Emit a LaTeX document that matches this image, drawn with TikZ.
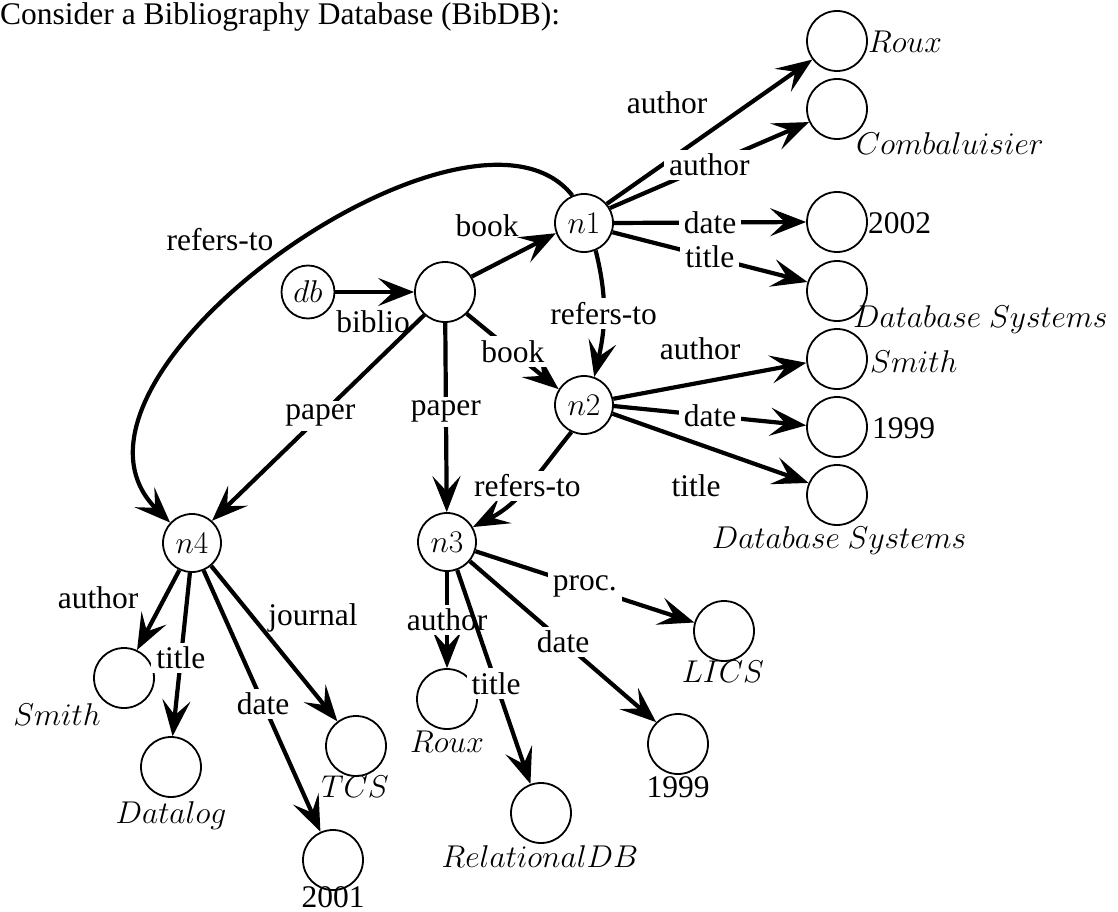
\documentclass[tikz,border=0pt]{standalone}
\usepackage{fix-cm}
\usepackage{fontspec}
\setmainfont{Liberation Serif}
\newfontfamily\lblserif{Liberation Serif}
\usetikzlibrary{arrows.meta}
\newcommand\lblfont{\lblserif\fontsize{31.5}{37}\selectfont}
\begin{document}
\begin{tikzpicture}[x=1pt,y=-1pt,
  lab/.style={font=\lblfont, inner sep=0pt},
  cut/.style={font=\lblfont, fill=white, inner xsep=5pt, inner ysep=4pt},
  nd/.style={circle, draw, line width=1.8pt, minimum size=58pt, inner sep=0pt, font=\lblfont},
  leaf/.style={nd, minimum size=60pt},
  conn/.style={line width=4.2pt, -{Stealth[length=36pt,width=28pt,inset=15pt]}},
]
\fill[white] (0,0) rectangle (1118,912);
\useasboundingbox (0,0) rectangle (1118,912);
\node[lab, anchor=base west] (title) at (0,25) {Consider a Bibliography Database (BibDB):};

% main nodes
\node[nd, minimum size=53pt] (db) at (308,292) {$db$};
\node[nd, minimum size=60pt] (biblio) at (445,292) {};
\node[nd] (n1) at (584,223) {$n1$};
\node[nd] (n2) at (584,405) {$n2$};
\node[nd] (n3) at (447,542) {$n3$};
\node[nd] (n4) at (192,543) {$n4$};

% leaves
\node[leaf] (Roux1) at (837,41) {};
\node[leaf] (Comb) at (837,109) {};
\node[leaf] (Y2002) at (837,222) {};
\node[leaf] (DBS1) at (837,291) {};
\node[leaf] (Smith2) at (837,359) {};
\node[leaf] (Y1999a) at (837,427) {};
\node[leaf] (DBS2) at (837,495) {};
\node[leaf] (Smith4) at (124,678) {};
\node[leaf] (Datalog) at (171,767) {};
\node[leaf] (TCS) at (356,746) {};
\node[leaf] (Y2001) at (333,860) {};
\node[leaf] (Roux3) at (447,699) {};
\node[leaf] (RelDB) at (541,813) {};
\node[leaf] (Y1999b) at (678,744) {};
\node[leaf] (LICS) at (724,631) {};

% leaf values
\node[lab, anchor=base west] (tRoux1) at (868,53) {$Roux$};
\node[lab, anchor=base west] (tComb) at (856,155) {$Combaluisier$};
\node[lab, anchor=base west] (t2002) at (868,233) {2002};
\node[lab, anchor=base west] (tDBS1) at (853,327) {$Database\ Systems$};
\node[lab, anchor=base west] (tSmith2) at (870,372) {$Smith$};
\node[lab, anchor=base west] (t1999a) at (872,438) {1999};
\node[lab, anchor=base] (tDBS2) at (839,548) {$Database\ Systems$};
\node[lab, anchor=base] (tSmith4) at (57,725) {$Smith$};
\node[lab, anchor=base] (tDatalog) at (171,823) {$Datalog$};
\node[lab, anchor=base] (tTCS) at (355,797) {$TCS$};
\node[lab, anchor=base] (t2001) at (333,907) {2001};
\node[lab, anchor=base] (tRoux3) at (447,752) {$Roux$};
\node[lab, anchor=base] (tRelDB) at (540,867) {$RelationalDB$};
\node[lab, anchor=base] (t1999b) at (678,797) {1999};
\node[lab, anchor=base] (tLICS) at (723,682) {$LICS$};

% free-standing edge labels
\node[lab] (lAuthor1) at (667,103) {author};
\node[lab] (lBook1) at (487,226) {book};
\node[lab] (lRefers) at (220,240) {refers-to};
\node[lab] (lBiblio) at (373,322) {biblio};
\node[lab] (lAuthor2) at (700,349) {author};
\node[lab] (lTitle2) at (696,486) {title};
\node[lab] (lAuthor4) at (98,598) {author};
\node[lab] (lJournal) at (313,618) {journal};

% connectors
\draw[conn] (n1.113) .. controls (470,66) and (26,380) .. (n4.137);
\draw[conn] (db) -- (biblio);
\draw[conn] (biblio.30) -- (n1.200);
\draw[conn] (biblio.-45) -- node[cut]{book} (n2.148);
\draw[conn] (biblio.228) -- node[cut, pos=0.49]{paper} (n4.48);
\draw[conn] (biblio) -- node[cut, pos=0.47]{paper} (n3);

\draw[conn] (n1.40) -- (Roux1.217);
\draw[conn] (n1.30) -- node[cut]{author} (Comb.205);
\draw[conn] (n1.0) -- node[cut]{date} (Y2002.180);
\draw[conn] (n1.-18) -- node[cut]{title} (DBS1.163);
\draw[conn] (n1.-67) to[out=-76,in=77] node[cut]{refers-to} (n2.70);

\draw[conn] (n2.12) -- (Smith2.187);
\draw[conn] (n2.-2) -- node[cut]{date} (Y1999a.177);
\draw[conn] (n2.-17) -- (DBS2.157);
\draw[conn] (n2.245) to[out=231,in=27] node[cut]{refers-to} (n3.30);

\draw[conn] (n4.245) -- (Smith4.65);
\draw[conn] (n4.266) -- node[cut, pos=0.52]{title} (Datalog.87);
\draw[conn] (n4.-67) -- node[cut, pos=0.51]{date} (Y2001.114);
\draw[conn] (n4.-50) -- (TCS.127);

\draw[conn] (n3) -- node[cut]{author} (Roux3);
\draw[conn] (n3.-70) -- node[cut, pos=0.53]{title} (RelDB.110);
\draw[conn] (n3.-40) -- node[cut]{date} (Y1999b.135);
\draw[conn] (n3.-18) -- node[cut]{proc.} (LICS.164);
\end{tikzpicture}
\end{document}
